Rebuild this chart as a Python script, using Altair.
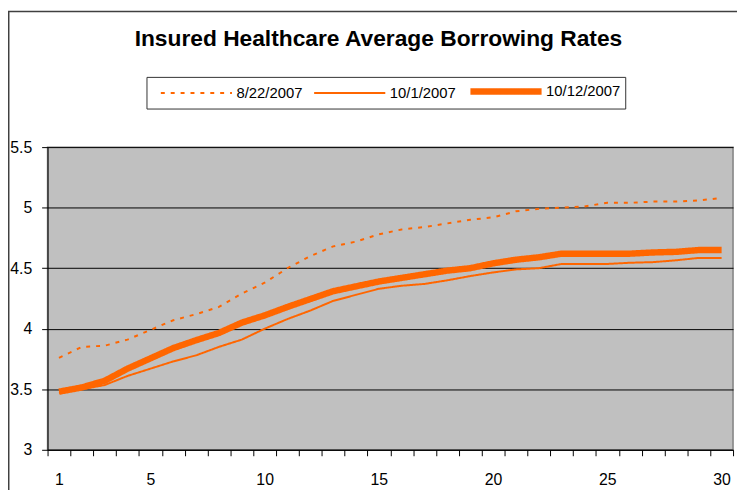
import altair as alt
import pandas as pd

maturity = list(range(1, 31))
series_names = ["8/22/2007", "10/1/2007", "10/12/2007"]
rates_0822 = [3.76, 3.85, 3.86, 3.91, 3.99, 4.07, 4.12, 4.18, 4.29, 4.38,
              4.50, 4.60, 4.68, 4.72, 4.78, 4.82, 4.84, 4.87, 4.90, 4.92,
              4.97, 4.99, 5.00, 5.01, 5.04, 5.04, 5.05, 5.05, 5.06, 5.08]
rates_1001 = [3.47, 3.50, 3.535, 3.61, 3.67, 3.73, 3.78, 3.85, 3.91, 4.00,
              4.08, 4.15, 4.23, 4.28, 4.33, 4.355, 4.37, 4.40, 4.435, 4.465,
              4.49, 4.50, 4.535, 4.535, 4.535, 4.545, 4.55, 4.565, 4.585, 4.585]
rates_1012 = [3.48, 3.515, 3.57, 3.67, 3.755, 3.84, 3.905, 3.965, 4.05, 4.11,
              4.18, 4.245, 4.31, 4.35, 4.39, 4.42, 4.45, 4.48, 4.50, 4.54,
              4.57, 4.59, 4.62, 4.62, 4.62, 4.62, 4.63, 4.635, 4.65, 4.65]
y_ticks = [3, 3.5, 4, 4.5, 5, 5.5]
x_tick_positions = [i + 0.5 for i in range(0, 31)]

rows = []
for name, vals in zip(series_names, [rates_0822, rates_1001, rates_1012]):
    for m, v in zip(maturity, vals):
        rows.append({"Maturity": m, "Rate": v, "Series": name})
df = pd.DataFrame(rows)

ORANGE = "#FF6600"
FONT = "Liberation Sans"

lines = alt.Chart(df).mark_line(strokeCap="butt", strokeJoin="round").encode(
    x=alt.X("Maturity:Q",
            scale=alt.Scale(domain=[0.5, 30.5], nice=False, zero=False),
            axis=alt.Axis(values=x_tick_positions, title=None, grid=False,
                          labelExpr="(datum.value + 0.5) == 1 || ((datum.value + 0.5) % 5 == 0 && datum.value < 30) ? format(datum.value + 0.5, 'd') : ''",
                          labelOffset=11.55, labelOverlap=False, labelBound=False,
                          labelFlush=False,
                          labelFontSize=16, labelFont=FONT, labelColor="black",
                          labelPadding=16,
                          tickColor="black", tickSize=6, domainColor="black")),
    y=alt.Y("Rate:Q",
            scale=alt.Scale(domain=[3, 5.5], nice=False, zero=False),
            axis=alt.Axis(values=y_ticks, title=None, format="~g",
                          labelFontSize=16, labelFont=FONT, labelColor="black",
                          labelPadding=10, tickColor="black", tickSize=6,
                          domainColor="black", gridColor="black", gridWidth=1,
                          gridOpacity=1)),
    color=alt.Color("Series:N", sort=series_names,
                    scale=alt.Scale(domain=series_names, range=[ORANGE, ORANGE, ORANGE]),
                    legend=alt.Legend(title=None)),
    strokeDash=alt.StrokeDash("Series:N", sort=series_names,
                              scale=alt.Scale(domain=series_names,
                                              range=[[4, 6], [1, 0], [1, 0]]),
                              legend=alt.Legend(title=None)),
    strokeWidth=alt.StrokeWidth("Series:N", sort=series_names,
                                scale=alt.Scale(type="ordinal", domain=series_names,
                                                range=[2, 2, 6.5]),
                                legend=alt.Legend(title=None)),
)

frame = alt.Chart(pd.DataFrame({"f": [0]})).mark_rect(
    fill="white", fillOpacity=0, stroke="#404040", strokeWidth=1.5
).encode(
    x=alt.value(-39.25), x2=alt.value(760),
    y=alt.value(-137), y2=alt.value(420),
)

chart = alt.layer(lines, frame).properties(
    width=693, height=306,
    padding={"left": 40, "top": 138, "right": 4, "bottom": 38},
    autosize=alt.AutoSizeParams(type="none"),
    title=alt.Title("Insured Healthcare Average Borrowing Rates",
                    font=FONT, fontSize=23, fontWeight="bold", color="black",
                    anchor="middle", dx=-12, dy=65, offset=24),
).configure_view(
    fill="#C0C0C0", stroke="#808080", strokeWidth=1.5
).configure_legend(
    orient="none", legendX=100, legendY=-71, direction="horizontal",
    columns=3, strokeColor="#333333", fillColor="white", padding=4,
    symbolType="M0,0H10", symbolSize=207, labelFont=FONT, labelFontSize=15,
    labelColor="black", columnPadding=1, labelOffset=66,
)

chart.save("out.html", embed_options={"renderer": "svg", "actions": False})
